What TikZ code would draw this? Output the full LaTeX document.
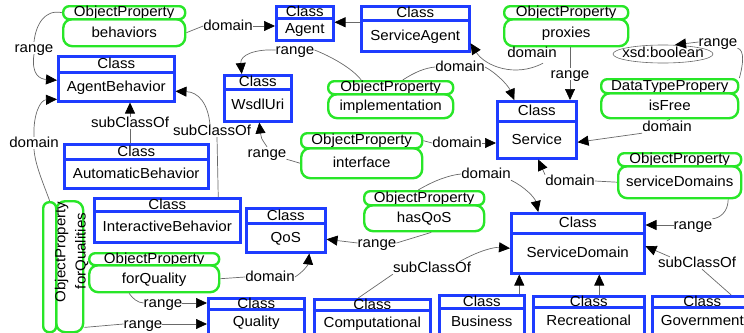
\documentclass[tikz,border=0pt]{standalone}
\usepackage{fontspec}
\setmainfont{Liberation Sans}[FakeStretch=1.04]
\usetikzlibrary{arrows.meta,calc}

\definecolor{umlblue}{RGB}{30,60,255}
\definecolor{propgreen}{RGB}{40,230,40}
\definecolor{edgegray}{RGB}{105,105,105}

\tikzset{
  txt/.style={font=\fontsize{14.5}{16}\selectfont, text height=10.5pt, text depth=1.5pt},
  headtxt/.style={font=\fontsize{14.5}{16}\selectfont, text height=9.5pt, text depth=1pt},
  classhead/.style={headtxt, draw=umlblue, line width=2.5pt, inner sep=0pt, anchor=north west},
  classbody/.style={txt, draw=umlblue, line width=2.5pt, inner sep=0pt, anchor=north west},
  prophead/.style={headtxt, draw=propgreen, line width=2.4pt, inner sep=0pt, anchor=north west, rounded corners=6pt},
  propbody/.style={txt, draw=propgreen, line width=2.4pt, inner sep=0pt, anchor=north west, rounded corners=9pt},
  elabel/.style={txt, inner sep=0pt},
  conn/.style={draw=edgegray, line width=0.7pt},
  arr/.style={conn, -{Triangle[length=11pt,width=10pt,color=black]}},
}

% class box: name, left, right, top, divider, bottom, class name
\newcommand{\umlclass}[7]{%
  \node[classhead, minimum width={(#3-#2)*1pt}, minimum height={(#5-#4)*1pt}] (#1h) at (#2,#4) {Class};
  \node[classbody, minimum width={(#3-#2)*1pt}, minimum height={(#6-#5)*1pt}] (#1) at (#2,#5) {#7};
}
% property box: name, left, right, top, divider, bottom, kind, property name
\newcommand{\umlprop}[8]{%
  \node[prophead, minimum width={(#3-#2)*1pt}, minimum height={(#5-#4)*1pt}] (#1h) at (#2,#4) {#7};
  \node[propbody, minimum width={(#3-#2)*1pt}, minimum height={(#6-#5)*1pt}] (#1) at (#2,#5) {#8};
}

\begin{document}
\begin{tikzpicture}[x=1pt,y=-1pt]
\useasboundingbox (0,0) rectangle (744,332);

% ---- classes ----
\umlclass{agent}{275}{332}{5}{17}{39}{Agent}
\umlclass{sagent}{360}{468}{5}{19}{50}{ServiceAgent}
\umlclass{agentbeh}{57}{173}{55}{71}{100}{AgentBehavior}
\umlclass{wsdl}{223}{290}{74}{88}{120}{WsdlUri}
\umlclass{service}{496}{575}{100}{120}{157}{Service}
\umlclass{autobeh}{63}{207}{143}{158}{187}{AutomaticBehavior}
\umlclass{interbeh}{93}{239}{197}{210}{241}{InteractiveBehavior}
\umlclass{qos}{245}{324}{207}{222}{251}{QoS}
\umlclass{sdomain}{510}{643}{212}{232}{272}{ServiceDomain}
\umlclass{quality}{207}{303}{297}{308}{334}{Quality}
\umlclass{comput}{313}{429}{298}{309}{334}{Computational}
\umlclass{business}{438}{523}{294}{307}{334}{Business}
\umlclass{recreat}{532}{643}{295}{306}{334}{Recreational}
\umlclass{govern}{651}{751}{295}{306}{334}{Government}

% ---- properties ----
\umlprop{behaviors}{62}{184}{5}{18}{45}{ObjectProperty}{behaviors}
\umlprop{proxies}{503}{627}{5}{18}{45}{ObjectProperty}{proxies}
\umlprop{implementation}{327}{452}{80}{93}{117}{ObjectProperty}{implementation}
\umlprop{isFree}{600}{737}{78}{92}{117}{DataTypePropery}{isFree}
\umlprop{interface}{300}{421}{132}{147}{177}{ObjectProperty}{interface}
\umlprop{sdoms}{617}{740}{152}{165}{197}{ObjectProperty}{serviceDomains}
\umlprop{hasQoS}{363}{483}{190}{204}{230}{ObjectProperty}{hasQoS}
\umlprop{forQuality}{88}{218}{252}{264}{291}{ObjectProperty}{forQuality}

% vertical property forQualities
\node[draw=propgreen, line width=2.4pt, rounded corners=6pt, anchor=north west,
      minimum width=13pt, minimum height=130pt, inner sep=0pt] (fqsh) at (42,201) {};
\node[draw=propgreen, line width=2.4pt, rounded corners=9pt, anchor=north west,
      minimum width=27pt, minimum height=131pt, inner sep=0pt] (fqs) at (55,200) {};
\node[headtxt, rotate=90, inner sep=0pt] (fqshtext) at (61,252) {ObjectProperty};
\node[txt, rotate=90, inner sep=0pt] (fqstext) at (81,251) {forQualities};

% datatype
\node[txt, text height=9pt, text depth=2pt, minimum width=100pt, minimum height=18pt, inner sep=0pt] (xsd) at (663,54) {xsd:boolean};
\draw[edgegray, line width=0.6pt] (xsd.center) ellipse [x radius=50pt, y radius=9pt];

% ---- edge labels ----
\node[elabel] (lRange1) at (34,48) {range};
\node[elabel] (lDom1) at (228,26) {domain};
\node[elabel] (lRange2) at (295,50) {range};
\node[elabel] (lDom2) at (460,67) {domain};
\node[elabel] (lDom3) at (532,53) {domain};
\node[elabel] (lRange3) at (570,74) {range};
\node[elabel] (lRange4) at (718,42) {range};
\node[elabel] (lDom5) at (667,127) {domain};
\node[elabel] (lRange5) at (267,153) {range};
\node[elabel] (lDom4) at (457,143) {domain};
\node[elabel] (lDom6) at (570,181) {domain};
\node[elabel] (lRange6) at (693,225) {range};
\node[elabel] (lDom7) at (486,174) {domain};
\node[elabel] (lRange9) at (377,243) {range};
\node[elabel] (lDom8) at (270,277) {domain};
\node[elabel] (lRange7) at (163,303) {range};
\node[elabel] (lRange8) at (143,324) {range};
\node[elabel] (lDom9) at (34,143) {domain};
\node[elabel] (lSub1) at (130,123) {subClassOf};
\node[elabel] (lSub2) at (212,131) {subClassOf};
\node[elabel] (lSub3) at (432,268) {subClassOf};
\node[elabel] (lSub4) at (697,263) {subClassOf};

% ---- connectors ----
% behaviors
\draw[conn] (behaviorsh.west) .. controls (45,9) and (36,24) .. (lRange1.north);
\draw[arr] (lRange1.south) .. controls (31,75) and (40,79) .. ([yshift=6.5pt]agentbeh.west);
\draw[conn] (behaviors.east) -- (lDom1.west);
\draw[arr] (lDom1.east) -- (lDom1.east -| agent.west);
% ServiceAgent to Agent
\draw[arr] ([yshift=7pt]agent.east -| sagent.west) -- ([yshift=7pt]agent.east);
% implementation
\draw[conn] (lRange2.east) .. controls (330,56) and (352,68) .. ([xshift=-29.5pt]implementationh.north);
\draw[arr] (lRange2.west) .. controls (255,49) and (240,55) .. ([xshift=-16pt]wsdlh.north);
\draw[conn] ([xshift=12pt]implementationh.north) .. controls (415,72) and (425,68) .. (lDom2.west);
\draw[arr] (lDom2.east) .. controls (495,72) and (508,85) .. ([xshift=-22.5pt]serviceh.north);
% proxies
\draw[arr] ([xshift=11pt,yshift=-4pt]lDom3.south) .. controls (515,78) and (485,66) .. ([yshift=-7.5pt]sagent.east);
\draw[conn] (lRange3.north |- proxies.south) -- (lRange3.north);
\draw[arr] (lRange3.south) -- (lRange3.south |- serviceh.north);
% isFree
\draw[conn] (isFreeh.north east) .. controls (743,65) and (745,50) .. (lRange4.south east);
\draw[arr] (lRange4.west) -- ([xshift=12pt]xsd.north);
\draw[conn] (isFree.south) -- (lDom5.north);
\draw[arr] (lDom5.south west) -- ([yshift=-2.5pt]service.east);
% interface
\draw[conn] (interface.west) -- (lRange5.south east);
\draw[arr] (lRange5.north) .. controls (261,138) .. ([xshift=1.5pt]wsdl.south);
\draw[conn] (interfaceh.east) -- (lDom4.west);
\draw[arr] (lDom4.east) -- (lDom4.east -| service.west);
% serviceDomains
\draw[conn] (sdoms.west) -- (lDom6.east);
\draw[arr] (lDom6.north west) -- ([xshift=1.5pt]service.south);
\draw[conn] ([xshift=48.5pt]sdoms.south) .. controls (728,212) and (720,218) .. (lRange6.north east);
\draw[arr] (lRange6.west) -- (lRange6.west -| sdomainh.east);
% hasQoS
\draw[conn] ([xshift=-6pt]hasQoSh.north) .. controls (435,180) and (450,175) .. (lDom7.west);
\draw[arr] (lDom7.south east) .. controls (525,187) and (535,198) .. ([xshift=-39.5pt]sdomainh.north);
\draw[conn] ([xshift=7pt]hasQoS.south) -- (lRange9.east);
\draw[arr] (lRange9.west) -- ([yshift=-1.5pt]qos.east);
% forQuality
\draw[conn] (forQuality.east) -- (lDom8.west);
\draw[arr] (lDom8.east) .. controls (303,272) and (308,265) .. ([xshift=23.5pt]qos.south);
\draw[conn] ([xshift=-25pt]forQuality.south) .. controls (132,298) and (138,303) .. (lRange7.west);
\draw[arr] (lRange7.east) -- (lRange7.east -| qualityh.west);
% forQualities
\draw[conn] ([yshift=6pt]fqs.south east) -- (lRange8.west);
\draw[arr] (lRange8.east) -- (lRange8.east -| quality.west);
\draw[conn] (fqsh.north) .. controls (44,185) and (35,165) .. (lDom9.south);
\draw[arr] (lDom9.north) .. controls (33,115) and (40,100) .. ([yshift=-12.5pt]agentbeh.west);
% subclass links
\draw[conn] (lSub1.south |- autobehh.north) -- (lSub1.south);
\draw[arr] (lSub1.north) -- (lSub1.north |- agentbeh.south);
\draw[conn] ($(interbehh.north)+(51,0)$) -- ($(lSub2.south)+(5,0)$);
\draw[arr] ($(lSub2.north)+(-2,0)$) .. controls (208,103) and (198,92) .. ([yshift=-4.5pt]agentbeh.east);
\draw[arr] ($(businessh.north)+(37.5,0)$) -- ($(sdomain.south)+(-58.5,0)$);
\draw[arr] ($(recreath.north)+(10.5,0)$) -- ($(sdomain.south)+(21.5,0)$);
\draw[conn] ($(computh.north)+(-14,0)$) -- (lSub3.south west);
\draw[arr] ($(lSub3.north east)+(-12,0)$) .. controls (480,250) and (495,247) .. ([yshift=5pt]sdomain.west);
\draw[conn] ($(governh.north)+(29,0)$) -- ($(lSub4.south)+(5,0)$);
\draw[arr] ($(lSub4.north west)+(12,0)$) -- ([yshift=7pt]sdomain.east);
\end{tikzpicture}
\end{document}
